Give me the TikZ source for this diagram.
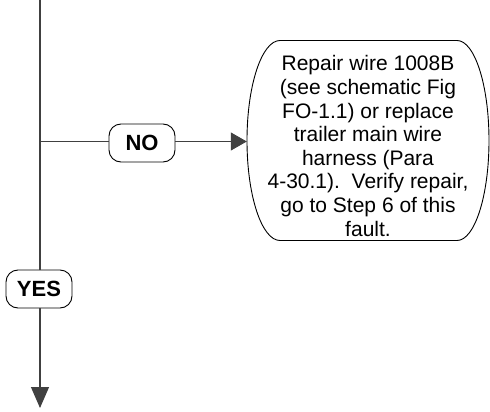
\documentclass[tikz,border=0pt]{standalone}
\usepackage{fontspec}
\setmainfont{Liberation Sans}
\usetikzlibrary{arrows.meta}
\begin{document}
\begin{tikzpicture}[x=1pt,y=-1pt,
  flow/.style={draw=black!75, line width=1.1pt},
  tip/.style={-{Triangle[length=16pt,width=18pt]}},
  downtip/.style={-{Triangle[length=21pt,width=18pt]}},
  answer/.style={draw=black, line width=0.9pt, fill=white, rounded corners=12pt,
    minimum width=66pt, minimum height=38pt, inner sep=0pt,
    font=\fontsize{22}{24}\selectfont\bfseries},
  outline/.style={draw=black, line width=0.9pt},
  bodytext/.style={align=center, inner sep=0pt, font=\fontsize{21}{23.6}\selectfont}]
\useasboundingbox (0,0) rectangle (490,412);
% big rounded box (invisible node for anchors)
\node[minimum width=242pt, minimum height=200pt, inner sep=0pt] (repair) at (368,140.5) {};
\draw[outline] (280,40.5) -- (457,40.5) arc[start angle=90, end angle=-90, x radius=32pt, y radius=100pt]
   -- (280,240.5) arc[start angle=270, end angle=90, x radius=33pt, y radius=100pt] -- cycle;
\node[bodytext] (repairtext) at (368,146) {Repair wire 1008B\\(see schematic Fig\\FO-1.1) or replace\\trailer main wire\\harness (Para\\4-30.1).\ \ Verify repair,\\go to Step 6 of this\\fault.};
% nodes
\node[answer] (no) at (142,143) {NO};
\node[answer] (yes) at (39,289) {YES};
\coordinate (top) at (40,0);
\coordinate (j) at (40,141.5);
\coordinate (bottom) at (40,408);
% connectors
\draw[flow] (top) -- (yes.north -| top);
\draw[flow, downtip] (yes.south -| top) -- (bottom);
\draw[flow] (j) -- (no.west |- j);
\draw[flow, tip] (no.east |- j) -- (repair.west |- j);
\end{tikzpicture}
\end{document}
